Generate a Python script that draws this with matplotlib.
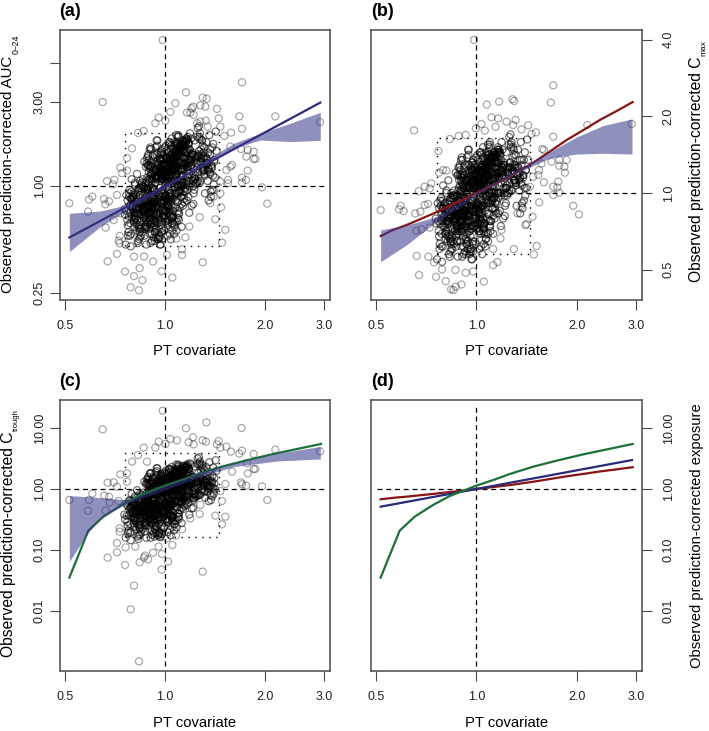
import numpy as np
import matplotlib
matplotlib.use('Agg')
import matplotlib.pyplot as plt

plt.rcParams['font.family'] = ['Liberation Sans', 'DejaVu Sans']

# all values below are log10 of what the axes show

# individually visible points, panel (a)
pt_a = [-.007,.231,-.187,.063,.113,.125,.031,.016,-.019,-.029,.001,.085,.080,.076,.066,.086,.106,.121,.156,.161,.223,.331,.465,.231,.166,.128,.122,.106,.096,-.064,-.081,-.099,-.114,-.134,-.129,-.114,-.174,-.152,-.156,-.144,-.218,-.228,-.287,-.231,-.183,-.168,-.179,.291,.307,.243,.231,.231,.248,.201,.196,.184,.266,.244,.266,.271,.248,.228,.196,.198,.178,.166,.151,.168,.181,.171,.113,.051,.051,.022,-.010,-.076,-.120,-.093,-.068,-.103,-.078,-.172,-.144,-.093,-.063,-.036,.006,-.178,-.154,-.134,-.136,-.139,-.136,.104,.073,.061,.034,.189,.189,.166,.146,.146,.136]
auc_a = [.828,.589,.477,.532,.502,.496,.470,.421,.389,.357,.372,.451,.442,.417,.417,.404,.458,.451,.438,.385,.396,.396,.364,.326,.338,.338,.372,.366,.357,.313,.302,.215,.160,.106,.074,.089,.030,.036,.011,-.049,-.058,-.075,-.096,-.143,-.072,-.085,-.102,-.006,-.098,.036,.049,.021,.089,.121,.111,.092,.196,.168,.155,.155,.206,.211,.225,.304,.285,-.040,-.187,-.119,-.247,-.319,-.430,-.357,-.389,-.517,-.481,-.464,-.483,-.509,-.532,-.572,-.589,-.425,-.383,-.398,-.398,-.426,-.389,-.234,-.191,-.153,-.281,-.308,-.323,-.175,-.228,-.289,-.296,.036,.017,.026,-.021,-.058,-.096]

# panel (b)
pt_b = [-.007,.230,.223,-.187,.068,.108,.113,.031,.045,.065,.09,.117,.11,.155,.332,.465,.230,.178,.165,.135,.057,.015,-.002,.025,-.053,-.032,-.08,-.114,-.10,-.112,-.09,-.155,-.173,-.135,-.14,-.287,-.227,-.232,-.218,-.183,-.168,-.155,-.145,.29,.307,.245,.23,.242,.23,.248,.202,.185,.265,.263,.27,.248,.225,.248,.197,.202,.195,.17,.188,.168,.147,.18,.172,.112,.063,.05,.022,-.01,-.032,-.063,-.045,-.062,-.069,-.076,-.092,-.121,-.172,-.179,-.144,-.127,-.103,-.18,-.165,-.14,.05,.072,.075,.123,.135,.15,.16,.187]
cmax_b = [.601,.423,.355,.246,.359,.368,.361,.347,.297,.293,.280,.287,.267,.266,.267,.271,.221,.238,.232,.250,.260,.271,.254,.245,.224,.228,.212,.165,.09,.08,.088,.025,.007,.038,.018,-.067,-.05,-.064,-.071,-.08,-.073,-.047,-.043,-.05,-.084,.045,.025,.022,-.008,.001,.042,.071,.08,.103,.13,.13,.123,.107,.173,.169,.116,.064,-.037,-.093,-.126,-.208,-.241,-.22,-.271,-.283,-.348,-.308,-.313,-.302,-.359,-.368,-.381,-.378,-.346,-.329,-.322,-.247,-.25,-.272,-.30,-.148,-.143,-.136,-.22,-.178,-.145,-.08,-.05,-.122,.025,.09]

# panel (c)
pt_c = [-.007,.124,.063,.23,-.187,.084,.161,.016,.036,-.019,.001,-.029,-.064,.113,.123,.071,.086,.156,.166,.184,.198,.331,.465,.231,.223,.266,-.081,-.099,-.054,.246,.201,.248,.266,.271,-.114,-.134,-.114,-.172,-.154,-.144,.228,.231,.243,.291,.307,-.218,-.287,-.228,-.231,-.182,-.168,-.166,-.178,-.139,.181,.166,.171,.151,.181,.171,.104,.051,.022,.033,.006,-.019,-.036,-.009,-.063,-.051,-.076,-.06,.009,-.01,.113,-.12,-.172,-.144,-.144,-.118,-.089,-.093,-.103,-.078,-.136,-.136,.131,.146,.106,.076]
ctrough_c = [1.284,1.093,.995,1.0,.978,.847,.787,.82,.798,.776,.738,.678,.678,.798,.776,.765,.732,.732,.678,.694,.612,.645,.617,.628,.579,.574,.557,.448,.448,.421,.284,.257,.328,.328,.257,.240,.12,.104,.109,.038,.109,.077,.055,.044,-.18,-.077,-.18,-.18,-.355,-.109,-.126,-.219,-.355,-.197,.082,-.033,-.197,-.437,-.454,-.579,-.41,-.661,-.918,-.765,-.809,-.945,-1.044,-1.066,-1.126,-1.153,-1.202,-1.093,-1.191,-1.322,-1.355,-1.246,-1.126,-1.038,-.885,-.956,-.945,-1.585,-1.973,-2.825,-.645,-.70,.011,-.044,-.262,-.481]

# estimated points of the crowded middle, same subjects in all three panels
pt_core = [
    -.041,.012,-.063,.028,-.008,.051,-.027,.074,-.052,.006,.033,-.085,
    .019,-.036,.044,-.071,.002,.089,-.018,-.049,.061,-.003,.025,-.092,
    -.058,.037,-.012,.068,-.033,.015,.097,-.076,.008,-.044,.055,-.021,
    .031,-.067,.047,-.005,-.082,.022,.079,-.039,.011,-.054,.103,-.015,
    -.029,.058,-.074,.017,-.047,.035,-.001,.084,-.061,.026,-.011,-.095,
    .042,-.023,.009,-.056,.071,-.038,.004,.113,-.069,.029,-.016,.053,
    -.034,.066,-.079,.014,-.007,.039,-.045,.092,-.024,.001,-.064,.048,
    .023,-.052,.081,-.013,-.088,.034,-.031,.059,.007,-.042,.125,-.072,
    -.019,.046,-.059,.076,-.004,-.037,.018,-.083,.064,-.026,.038,-.009,
    .054,-.068,.003,.099,-.048,.021,-.014,-.077,.043,-.032,.086,-.002,
    -.055,.027,-.022,.069,-.091,.013,-.043,.057,-.006,.036,-.065,.108,
    .005,-.028,.049,-.073,.024,-.011,.082,-.053,.016,-.035,.062,-.086,
    -.046,.032,-.017,.072,-.06,.01,.094,-.025,-.078,.041,-.003,.056,
    .02,-.04,.067,-.01,-.066,.03,-.05,.088,.0,-.02,.045,-.08,
    -.036,.052,-.07,.015,.118,-.03,.04,-.057,.025,-.012,.078,-.047,
    .008,-.062,.035,-.024,.06,-.098,.018,-.006,.091,-.043,.028,-.015,
    -.051,.044,.002,-.033,.075,-.075,.013,-.019,.05,-.039,.106,-.056,
    .033,-.009,-.064,.022,.083,-.028,.006,-.087,.056,-.045,.017,-.001,
    -.03,.063,-.041,.009,-.072,.036,-.016,.097,-.054,.024,.0,-.068,
    .047,-.02,.011,-.05,.07,-.035,.029,-.084,.04,-.008,.065,-.026,
    -.06,.019,-.013,.053,-.044,.085,.003,-.076,.031,-.037,.01,.115,
    -.023,.042,-.066,.026,-.005,.073,-.048,.014,-.09,.058,-.031,.037,
    .016,-.057,.096,-.018,.038,-.071,.007,-.034,.049,-.012,.08,-.042,
    -.01,.055,-.081,.028,-.046,.067,-.002,.02,-.059,.043,-.025,.13,
    # tighter group at the dark centre
    -.021,.014,-.047,.033,.002,-.036,.051,-.012,.025,-.055,.008,.042,
    .018,-.029,.039,-.006,-.052,.027,-.016,.058,-.04,.011,.035,-.024,
    -.033,.005,.047,-.044,.021,-.009,.062,-.03,.013,-.058,.029,-.002,
    .037,-.018,.01,-.049,.054,-.025,.003,.043,-.061,.016,-.035,.024,
    -.014,.031,-.054,.007,.048,-.038,.019,-.004,.065,-.027,.012,-.046,
    .028,-.041,.015,-.01,.056,-.032,.001,.04,-.056,.022,-.019,.05,
    -.008,.045,-.037,.017,-.06,.03,.006,-.023,.053,-.043,.009,.034,
    -.026,.02,.06,-.05,.004,-.015,.038,-.034,.026,-.003,.068,-.045,
    .013,-.02,.044,-.059,.032,-.007,-.039,.052,.0,-.028,.023,.072,
    -.042,.009,-.017,.036,-.063,.046,-.011,.018,-.031,.057,.003,-.048,
    .025,-.005,-.053,.041,.015,-.022,.064,-.037,.007,.03,-.013,.049,
    -.03,.052,-.001,-.045,.019,.078,-.026,.011,-.057,.034,-.008,.06,
    .006,-.034,.027,-.062,.043,-.016,.02,-.041,.055,-.004,.032,-.051,
    -.019,.038,-.028,.01,.07,-.048,.016,-.006,.047,-.033,.022,.002,
    .041,-.012,-.044,.029,-.002,.059,-.036,.013,-.024,.05,-.055,.017,
    -.007,.024,.063,-.031,.005,-.046,.035,-.015,.074,-.053,.028,-.021,
    .012,-.039,.046,-.018,.031,-.064,.004,.056,-.027,.019,-.01,.039,
    -.035,.016,-.005,.051,-.047,.026,-.02,.067,.001,-.043,.033,-.014,
    .021,-.052,.037,-.009,.014,-.029,.049,-.038,.008,.06,-.023,-.001,
    -.016,.03,-.04,.055,.003,-.057,.024,-.012,.042,-.032,.017,.066,
    # group along the fitted trend
    -.085,.072,-.031,.104,-.062,.018,-.098,.045,.121,-.074,.009,.088,
    -.044,.095,-.108,.036,-.019,.066,-.079,.112,-.052,.027,-.003,.083,
    .058,-.091,.013,.076,-.067,.102,-.037,.004,.131,-.083,.049,-.026,
    -.102,.039,.092,-.056,.021,.115,-.071,-.012,.068,-.094,.034,.142,
    .081,-.047,.001,.098,-.087,.053,-.028,.124,-.064,.016,.074,-.105,
    -.033,.063,-.076,.109,-.041,.024,.087,-.099,.047,-.015,.136,-.058,
    .011,-.081,.071,-.024,.118,-.065,.032,-.112,.055,.093,-.039,.006,
    -.069,.101,-.017,.042,-.093,.078,.127,-.049,.015,-.077,.061,-.006,
    .089,-.035,.029,-.104,.065,-.054,.106,.002,-.072,.038,-.021,.148,
    -.059,.017,.094,-.084,.05,-.011,.077,-.096,.031,.119,-.043,.069,
    .003,-.078,.052,.135,-.046,.084,-.022,-.101,.073,-.008,.041,-.063,
    .111,-.029,.019,-.089,.06,-.051,.097,-.014,.035,-.07,.128,.026,
    -.038,.07,-.095,.008,.046,-.06,.086,-.005,-.082,.056,.022,-.042,
    .1,-.068,.037,-.025,.079,-.107,.012,.064,-.048,.116,-.016,.03,
    -.011,.054,-.073,.091,-.034,.028,-.088,.048,.082,-.056,.007,-.02,
    .067,-.045,.139,-.002,-.079,.033,-.03,.107,-.061,.02,.075,-.1,
    # left and right flanks of the cloud
    -.105,-.098,-.112,-.09,-.118,-.102,-.086,-.095,-.108,-.078,-.115,-.093,
    -.088,-.11,-.1,-.082,-.12,-.092,-.106,-.075,-.097,-.113,-.084,-.101,
    -.094,-.116,-.08,-.104,-.09,-.122,-.076,-.099,-.111,-.087,-.103,-.072,
    .118,.134,.105,.142,.126,.11,.15,.13,.098,.138,.122,.145,
    .128,.103,.14,.115,.152,.12,.108,.136,.148,.112,.131,.1,
    .124,.146,.107,.133,.116,.155,.102,.137,.127,.144,.113,.141]
auc_core = [
    .069,-.138,-.013,.228,-.098,.031,-.247,.204,.118,.026,-.077,-.155,
    -.11,.09,.17,-.24,.05,.26,-.29,.08,-.03,-.17,.21,-.19,
    .02,-.09,-.26,.19,-.15,.14,.28,-.05,-.21,.11,.06,-.30,
    .24,-.13,-.06,.07,-.22,-.17,.12,-.31,.19,-.08,.27,.15,
    -.20,.16,-.10,-.04,.12,-.25,.22,.03,-.28,.13,-.12,-.06,
    .18,.06,-.19,-.33,.25,-.07,.16,.10,.02,-.23,-.01,.20,
    -.16,.03,-.24,.25,.09,-.14,-.27,.17,.13,-.06,-.18,.23,
    -.21,-.02,.05,.14,-.12,.29,-.31,-.09,.08,.21,.13,-.28,
    -.05,.24,-.15,.11,-.25,.17,-.08,-.19,.27,-.29,.01,.10,
    -.11,-.26,.23,.08,.15,-.18,.04,-.23,.20,-.13,-.04,.12,
    .13,-.27,.19,.21,-.17,.07,-.32,-.07,.15,.25,-.09,.16,
    -.14,.22,.00,-.20,.09,-.24,.18,.05,-.16,-.10,.26,-.13,
    .10,.20,-.28,.03,-.05,-.11,.15,.26,-.22,-.16,.12,-.03,
    .27,-.21,.11,-.30,.04,-.12,.18,-.02,.06,-.18,.22,-.10,
    -.09,.01,-.03,.16,.09,-.26,.28,-.16,-.07,.19,.17,-.24,
    -.28,.14,-.20,.23,-.01,-.12,.10,-.15,.06,.07,.25,-.33,
    .17,-.12,.08,-.23,.30,.03,-.19,.12,-.10,-.27,.14,-.04,
    .06,.21,-.18,-.25,.19,.09,-.11,-.21,.24,.04,-.30,.13,
    -.26,.11,.14,-.08,-.16,.23,-.29,.02,.16,-.14,.08,.00,
    -.02,-.30,.25,.12,-.06,.18,-.20,-.13,.29,.05,-.08,-.24,
    -.07,.15,-.33,.02,.22,-.10,-.14,-.26,.19,.13,.09,.11,
    .26,-.19,-.12,.18,.07,-.15,.04,-.27,-.18,.10,-.22,.24,
    .03,-.24,.13,-.17,.28,.01,.16,-.29,-.06,.20,-.11,-.14,
    .12,-.05,-.08,-.22,.21,.06,-.25,.15,-.23,-.03,.18,.10,
    -.12,.15,-.18,.21,.04,-.09,.23,-.03,.12,-.20,.07,.19,
    .13,-.17,.22,-.02,-.21,.16,-.06,.25,-.15,.00,.18,-.11,
    -.14,.08,.24,-.19,.10,-.13,.20,-.08,.17,-.22,.14,.03,
    .19,-.05,.01,-.16,.26,-.12,.11,.06,-.24,-.04,-.10,.15,
    .09,.20,-.23,-.07,.18,-.01,.13,-.18,.27,-.12,.05,-.20,
    .17,-.14,-.04,.12,.21,-.19,.02,.24,-.17,.08,-.09,.10,
    -.06,.22,-.11,.16,-.18,.04,.14,-.21,.26,-.13,-.02,.11,
    -.16,.18,.23,-.15,.06,.10,.17,-.20,.03,-.08,.28,-.05,
    .11,-.19,.21,-.23,.13,.05,-.10,.09,-.14,.02,.19,.24,
    -.21,.12,-.04,.07,-.12,.22,.15,-.17,-.09,.25,-.06,-.15,
    .05,.16,-.13,.20,-.16,-.07,.26,-.03,.10,.14,-.20,.06,
    .02,.23,-.08,-.22,.09,.27,-.15,-.12,-.19,.17,.04,.13,
    -.10,-.02,.15,-.17,.19,.08,-.21,.11,.20,-.16,.07,-.04,
    .13,.01,-.20,.03,.24,-.11,.18,-.14,.09,-.05,-.18,.16,
    .22,-.09,-.16,.10,-.13,.19,-.01,.06,.14,-.23,-.12,.21,
    .04,-.17,.25,-.07,.12,-.02,.16,-.19,.21,-.10,.00,.08,
    -.15,.03,.17,-.24,.11,-.08,.20,.13,-.11,.23,-.04,-.18,
    .07,-.13,.18,.22,-.06,.01,-.16,.26,-.20,.12,.05,.15,
    .00,-.11,.14,-.18,.24,.09,.06,-.07,-.22,.19,.10,-.14,
    .16,-.04,-.12,.23,-.20,.11,.02,.18,-.15,.08,-.09,.20,
    -.15,.13,-.02,.02,-.14,-.05,-.06,.14,.17,-.01,.08,.05,
    -.11,.16,-.17,.12,.05,-.02,-.13,.09,-.01,.11,-.09,.18,
    .02,-.16,.11,.14,.00,.20,-.09,-.07,.10,-.15,.13,.04,
    -.10,.09,.01,-.12,.10,.19,-.01,-.10,.15,-.04,.07,.22,
    .17,-.08,.06,.03,-.05,.12,.05,.16,-.14,-.06,.00,-.11,
    -.02,.01,-.12,.18,.06,.09,.10,-.18,-.03,.07,.21,-.09,
    -.08,-.03,.15,-.10,.07,-.11,.12,-.08,.11,.02,.04,.09,
    -.13,.17,.08,-.03,-.07,.15,.13,.02,-.06,-.12,.12,-.04,
    .04,-.10,.10,-.15,.14,.03,.03,-.05,-.09,.00,.06,.15,
    .00,.07,.13,-.07,.02,-.08,.16,-.13,.09,.06,-.11,.01,
    -.05,-.01,.12,.18,-.12,.00,.08,-.03,.07,.06,-.04,-.14,
    .08,.05,-.06,-.13,.13,-.03,.17,.07,-.04,-.09,.09,.10,
    .04,.11,-.05,-.09,.01,-.16,.07,.09,-.12,.16,-.07,-.01,
    .14,-.14,.03,.06,.12,-.06,-.08,.02,-.11,.16,.03,-.05,
    .07,.10,-.09,.04,-.06,.11,-.15,.00,.18,-.02,-.10,.05,
    .13,-.12,.12,.09,-.02,-.04,.06,.14,-.08,.03,.15,-.07,
    -.28,-.12,-.22,.02,-.33,-.07,-.25,-.17,-.04,-.30,-.14,-.20,
    -.09,-.26,.04,-.31,-.16,-.23,-.02,-.29,-.11,-.19,.07,-.27,
    -.15,-.05,-.32,-.21,.01,-.13,-.24,-.08,-.28,-.18,-.34,-.10,
    .22,.08,.30,-.02,.15,.26,.05,.19,.33,-.06,.12,.24,
    .03,.28,.10,.17,.31,-.04,.21,.07,.14,.26,-.08,.18,
    .25,.01,.16,.29,.09,.20,.34,-.03,.13,.06,.23,.11]
cmax_core = [
    .027,-.123,-.015,.115,-.074,-.022,-.185,.111,.051,.013,-.082,-.097,
    -.10,.05,.10,-.19,.02,.16,-.22,.03,-.04,-.13,.13,-.16,
    -.01,-.08,-.20,.12,-.12,.08,.19,-.06,-.16,.06,.03,-.23,
    .15,-.11,-.06,.03,-.17,-.14,.07,-.24,.11,-.08,.18,.09,
    -.16,.10,-.09,-.05,.07,-.19,.14,.00,-.21,.08,-.10,-.07,
    .11,.02,-.15,-.25,.16,-.07,.09,.05,-.01,-.18,-.03,.12,
    -.13,.00,-.19,.16,.05,-.11,-.21,.10,.08,-.06,-.14,.14,
    -.16,-.04,.02,.08,-.11,.19,-.24,-.08,.04,.13,.07,-.22,
    -.06,.15,-.13,.06,-.19,.10,-.08,-.16,.18,-.22,.00,.05,
    -.10,-.20,.15,.04,.09,-.14,.01,-.18,.12,-.11,-.05,.07,
    .07,-.21,.11,.13,-.15,.03,-.25,-.07,.09,.16,-.09,.09,
    -.12,.14,-.02,-.17,.05,-.19,.11,.02,-.13,-.09,.17,-.12,
    .05,.12,-.22,.00,-.06,-.10,.08,.17,-.18,-.13,.07,-.04,
    .18,-.17,.06,-.23,.01,-.10,.11,-.04,.03,-.15,.14,-.10,
    -.09,-.02,-.05,.10,.04,-.20,.19,-.14,-.07,.12,.10,-.19,
    -.22,.08,-.16,.15,-.03,-.11,.06,-.13,.03,.04,.16,-.26,
    .10,-.11,.04,-.18,.20,.00,-.16,.07,-.09,-.21,.08,-.06,
    .03,.13,-.15,-.20,.12,.05,-.10,-.17,.15,.01,-.24,.08,
    -.20,.06,.08,-.08,-.14,.15,-.23,.00,.10,-.12,.04,-.02,
    -.03,-.24,.16,.07,-.07,.11,-.16,-.12,.20,.02,-.08,-.19,
    -.08,.09,-.26,.00,.14,-.09,-.12,-.20,.12,.07,.05,.05,
    .17,-.15,-.11,.11,.03,-.13,.01,-.21,-.15,.06,-.18,.15,
    .00,-.19,.07,-.14,.18,-.01,.09,-.23,-.06,.12,-.10,-.12,
    .07,-.06,-.09,-.18,.13,.03,-.20,.09,-.19,-.04,.11,.06,
    -.09,.09,-.13,.13,.02,-.07,.14,-.03,.07,-.14,.04,.12,
    .08,-.12,.14,-.02,-.15,.10,-.05,.15,-.11,-.01,.11,-.08,
    -.10,.04,.15,-.13,.06,-.09,.12,-.06,.10,-.15,.08,.01,
    .12,-.04,.00,-.11,.16,-.09,.06,.03,-.17,-.03,-.07,.09,
    .05,.12,-.16,-.05,.11,-.02,.08,-.12,.17,-.09,.02,-.14,
    .10,-.10,-.03,.07,.13,-.13,.00,.15,-.12,.04,-.07,.06,
    -.05,.14,-.08,.10,-.13,.02,.08,-.15,.16,-.09,-.02,.07,
    -.11,.11,.14,-.11,.03,.06,.10,-.14,.01,-.06,.17,-.04,
    .07,-.13,.13,-.16,.08,.02,-.07,.05,-.10,.00,.12,.15,
    -.15,.07,-.03,.04,-.09,.14,.09,-.12,-.07,.15,-.05,-.11,
    .02,.10,-.09,.12,-.11,-.05,.16,-.03,.06,.09,-.14,.03,
    .00,.14,-.06,-.15,.05,.17,-.11,-.09,-.13,.10,.02,.08,
    -.07,-.02,.09,-.12,.12,.04,-.15,.06,.12,-.11,.04,-.03,
    .08,.00,-.14,.01,.15,-.08,.11,-.10,.05,-.04,-.13,.10,
    .14,-.07,-.11,.06,-.09,.12,-.02,.03,.09,-.16,-.09,.13,
    .02,-.12,.16,-.05,.07,-.02,.10,-.13,.13,-.07,-.01,.05,
    -.11,.01,.11,-.17,.07,-.06,.13,.08,-.08,.14,-.03,-.13,
    .04,-.09,.11,.14,-.05,.00,-.11,.16,-.14,.07,.03,.09,
    -.01,-.08,.09,-.13,.15,.05,.03,-.05,-.15,.12,.06,-.10,
    .10,-.03,-.09,.14,-.14,.07,.01,.11,-.11,.05,-.06,.12,
    -.11,.08,-.02,.01,-.10,-.04,-.05,.08,.10,-.02,.04,.02,
    -.08,.09,-.12,.07,.02,-.02,-.10,.05,-.02,.06,-.07,.11,
    .00,-.11,.06,.08,-.01,.12,-.07,-.05,.06,-.11,.07,.01,
    -.08,.05,-.01,-.09,.05,.11,-.02,-.07,.09,-.04,.03,.13,
    .10,-.06,.03,.01,-.04,.07,.02,.10,-.10,-.05,-.01,-.08,
    -.03,.00,-.09,.11,.03,.05,.06,-.13,-.03,.04,.13,-.07,
    -.06,-.03,.09,-.07,.04,-.08,.07,-.06,.06,.00,.02,.05,
    -.10,.10,.04,-.03,-.06,.09,.08,.00,-.05,-.09,.07,-.04,
    .02,-.08,.06,-.11,.08,.01,.01,-.04,-.07,-.01,.03,.09,
    -.01,.04,.08,-.06,.00,-.06,.10,-.09,.05,.03,-.08,.00,
    -.04,-.02,.07,.11,-.09,-.01,.04,-.03,.04,.03,-.04,-.10,
    .04,.02,-.05,-.09,.08,-.03,.10,.04,-.03,-.07,.05,.06,
    .02,.06,-.04,-.07,.00,-.11,.04,.05,-.09,.10,-.05,-.01,
    .08,-.10,.01,.03,.07,-.05,-.06,.00,-.08,.10,.01,-.04,
    .04,.06,-.07,.02,-.05,.06,-.11,-.01,.11,-.03,-.08,.02,
    .08,-.09,.07,.05,-.03,-.04,.03,.08,-.06,.01,.09,-.06,
    -.21,-.10,-.17,.01,-.26,-.06,-.19,-.13,-.03,-.23,-.11,-.16,
    -.07,-.20,.03,-.24,-.12,-.18,-.02,-.22,-.09,-.15,.05,-.21,
    -.12,-.04,-.25,-.16,.00,-.10,-.19,-.06,-.22,-.14,-.27,-.08,
    .15,.04,.20,-.03,.10,.18,.02,.13,.22,-.06,.07,.16,
    .01,.19,.06,.11,.21,-.05,.14,.03,.09,.17,-.08,.12,
    .17,-.01,.10,.20,.05,.13,.23,-.04,.08,.02,.15,.07]
ctrough_core = [
    -.02,-.41,-.18,.29,-.34,-.09,-.62,.25,.07,-.10,-.29,-.45,
    -.35,.02,.16,-.63,-.08,.37,-.72,-.02,-.20,-.45,.24,-.52,
    -.12,-.30,-.65,.22,-.42,.12,.41,-.22,-.53,.06,-.03,-.76,
    .30,-.39,-.24,-.02,-.58,-.46,.14,-.75,.20,-.27,.38,.12,
    -.52,.18,-.32,-.20,.09,-.63,.27,-.08,-.70,.10,-.36,-.24,
    .22,-.05,-.50,-.80,.33,-.26,.16,.06,-.11,-.58,-.15,.24,
    -.44,-.10,-.60,.32,.02,-.40,-.67,.18,.12,-.22,-.48,.30,
    -.54,-.16,-.03,.13,-.36,.40,-.78,-.28,.00,.26,.10,-.70,
    -.20,.31,-.42,.08,-.63,.19,-.27,-.50,.36,-.72,-.09,.05,
    -.33,-.66,.30,.03,.15,-.48,-.06,-.60,.24,-.37,-.18,.10,
    .10,-.68,.22,.26,-.47,-.02,-.80,-.25,.15,.33,-.30,.17,
    -.40,.27,-.12,-.53,.02,-.61,.20,-.05,-.44,-.31,.35,-.38,
    .04,.24,-.70,-.08,-.20,-.34,.13,.34,-.58,-.45,.09,-.16,
    .36,-.56,.07,-.74,-.06,-.35,.20,-.15,-.02,-.47,.27,-.31,
    -.30,-.10,-.17,.16,.05,-.65,.38,-.44,-.24,.21,.18,-.60,
    -.71,.12,-.52,.29,-.13,-.36,.06,-.41,-.02,.00,.32,-.79,
    .17,-.35,.01,-.59,.42,-.08,-.50,.09,-.31,-.68,.12,-.19,
    -.03,.25,-.47,-.62,.20,.04,-.33,-.54,.30,-.07,-.76,.11,
    -.66,.08,.13,-.27,-.43,.28,-.73,-.11,.16,-.39,.03,-.13,
    -.14,-.75,.33,.10,-.22,.18,-.52,-.37,.40,-.03,-.26,-.61,
    -.25,.15,-.78,-.09,.26,-.31,-.40,-.65,.21,.10,.04,.12,
    .34,-.49,-.36,.19,.01,-.42,-.04,-.67,-.48,.07,-.56,.30,
    -.07,-.60,.11,-.46,.36,-.10,.17,-.72,-.21,.24,-.32,-.39,
    .09,-.18,-.28,-.57,.25,.00,-.63,.14,-.59,-.14,.20,.07,
    -.35,.17,-.46,.28,-.04,-.29,.32,-.18,.11,-.50,.01,.24,
    .13,-.44,.30,-.16,-.52,.18,-.23,.36,-.40,-.12,.22,-.33,
    -.38,.03,.33,-.48,.07,-.36,.26,-.27,.20,-.53,.14,-.06,
    .24,-.21,-.10,-.42,.38,-.35,.09,-.01,-.56,-.20,-.31,.16,
    .05,.26,-.55,-.25,.22,-.14,.12,-.46,.39,-.34,-.02,-.50,
    .20,-.38,-.19,.10,.28,-.48,-.08,.33,-.44,.03,-.29,.08,
    -.23,.30,-.33,.18,-.46,-.04,.15,-.52,.37,-.36,-.16,.09,
    -.42,.22,.32,-.40,-.01,.07,.20,-.50,-.06,-.27,.41,-.22,
    .09,-.47,.28,-.55,.13,-.02,-.31,.05,-.38,-.09,.24,.33,
    -.52,.11,-.20,.02,-.35,.30,.16,-.44,-.29,.35,-.24,-.40,
    -.03,.18,-.37,.27,-.42,-.25,.38,-.18,.08,.14,-.50,.00,
    -.07,.31,-.27,-.54,.05,.40,-.40,-.34,-.48,.20,-.04,.13,
    -.31,-.15,.16,-.44,.24,.03,-.52,.09,.26,-.42,.02,-.19,
    .13,-.10,-.50,-.05,.33,-.33,.21,-.38,.05,-.21,-.46,.18,
    .30,-.29,-.42,.08,-.36,.24,-.13,-.01,.14,-.56,-.34,.28,
    -.04,-.44,.35,-.25,.11,-.15,.18,-.48,.28,-.31,-.11,.04,
    -.40,-.06,.20,-.58,.09,-.27,.26,.12,-.33,.31,-.19,-.46,
    .01,-.36,.21,.30,-.23,-.09,-.42,.37,-.50,.11,-.03,.16,
    -.12,-.33,.14,-.46,.33,.05,-.01,-.25,-.54,.24,.07,-.38,
    .18,-.19,-.34,.31,-.50,.08,-.08,.22,-.40,.03,-.29,.27,
    -.40,.06,-.18,-.10,-.38,-.22,-.25,.07,.13,-.17,-.02,-.07,
    -.33,.11,-.43,.05,-.08,-.18,-.36,.00,-.16,.03,-.29,.14,
    -.12,-.41,.03,.08,-.15,.17,-.29,-.26,.02,-.40,.06,-.09,
    -.31,.00,-.13,-.34,.02,.15,-.17,-.31,.09,-.21,-.03,.21,
    .12,-.27,-.06,-.10,-.23,.05,-.07,.10,-.37,-.24,-.15,-.32,
    -.18,-.13,-.34,.14,-.05,.00,.02,-.45,-.20,-.04,.19,-.29,
    -.28,-.20,.09,-.31,-.03,-.32,.05,-.28,.03,-.12,-.08,.00,
    -.36,.13,-.02,-.20,-.26,.09,.06,-.12,-.24,-.34,.05,-.21,
    -.09,-.31,.02,-.39,.08,-.10,-.09,-.23,-.29,-.15,-.05,.09,
    -.15,-.04,.06,-.26,-.12,-.28,.10,-.36,.00,-.05,-.32,-.13,
    -.23,-.17,.05,.14,-.34,-.15,-.01,-.20,-.03,-.05,-.21,-.37,
    -.02,-.07,-.25,-.36,.06,-.20,.12,-.04,-.21,-.29,.00,.02,
    -.09,.03,-.23,-.29,-.13,-.41,-.03,.00,-.34,.11,-.26,-.16,
    .08,-.38,-.10,-.05,.05,-.25,-.28,-.12,-.33,.11,-.10,-.23,
    -.04,.02,-.29,-.09,-.25,.03,-.39,-.15,.14,-.18,-.31,-.07,
    .06,-.34,.05,.00,-.18,-.21,-.05,.08,-.28,-.10,.10,-.26,
    -.72,-.40,-.60,-.15,-.80,-.30,-.66,-.48,-.20,-.76,-.44,-.56,
    -.33,-.68,-.08,-.78,-.50,-.62,-.18,-.74,-.38,-.54,-.02,-.70,
    -.46,-.24,-.82,-.58,-.12,-.42,-.64,-.28,-.72,-.52,-.84,-.36,
    .32,.05,.45,-.12,.22,.38,.00,.28,.50,-.18,.15,.35,
    -.04,.42,.10,.25,.47,-.14,.30,.03,.18,.40,-.20,.26,
    .36,-.08,.20,.44,.08,.30,.52,-.10,.16,.02,.34,.12]

# fitted lines
line_x_auc = [-.287, 0, .466]
line_auc = [-.29, 0, .474]
line_x_cmax = [-.287,-.25,-.21,-.13,-.06,0,.1,.17,.22,.27,.32,.37,.42,.468]
line_cmax = [-.169,-.145,-.126,-.081,-.038,0,.064,.119,.163,.208,.247,.287,.322,.357]
line_x_ctrough = [-.287,-.23,-.185,-.13,-.08,-.04,0,.05,.10,.17,.24,.32,.40,.468]
line_ctrough = [-1.453,-.683,-.454,-.262,-.115,-.03,.055,.147,.246,.366,.464,.568,.66,.738]

# shaded bands
band_x_a = [-.287,-.194,-.094,0,.106,.206,.286,.376,.466]
band_lo_a = [-.370,-.228,-.115,-.011,.11,.215,.262,.253,.26]
band_hi_a = [-.153,-.14,-.096,.0,.13,.243,.30,.357,.419]
band_x_b = [-.287,-.21,-.12,0,.12,.22,.30,.38,.466]
band_lo_b = [-.27,-.204,-.113,-.008,.077,.137,.153,.156,.153]
band_hi_b = [-.145,-.126,-.093,.005,.09,.162,.22,.265,.291]
band_x_c = [-.287,-.232,-.194,-.114,0,.106,.206,.336,.466]
band_lo_c = [-1.19,-.727,-.481,-.235,-.016,.202,.366,.459,.492]
band_hi_c = [-.109,-.125,-.142,-.18,.055,.284,.42,.585,.697]

# dotted box around the middle of the data: x range, then y range per panel
box_x = [.76, 1.45]
box_y_a = [.46, 2.01]
box_y_b = [.574, 1.65]
box_y_c = [.165, 3.94]

x_ticks = [.5, 1, 2, 3]
x_labels = ['0.5', '1.0', '2.0', '3.0']

BLUE = '#2a2a78'
RED = '#8a1414'
GREEN = '#1c7038'
BAND = '#36368a'
GREY = '#4a4a4a'
W, H = 709, 731


def setup(rect, ylim, yticks, ylabels, right=False):
    l, t, r, b = rect
    ax = fig.add_axes([l / W, 1 - b / H, (r - l) / W, (b - t) / H])
    ax.set_xscale('log')
    ax.set_yscale('log')
    ax.set_xlim(10 ** -.315, 10 ** .495)
    ax.set_ylim(*ylim)
    ax.set_xticks(x_ticks, x_labels)
    ax.set_yticks(yticks, ylabels, rotation=90, va='center')
    ax.minorticks_off()
    ax.tick_params(length=7.2, width=.8, color=GREY, labelcolor='#222222', labelsize=9)
    ax.tick_params(axis='x', pad=7)
    ax.tick_params(axis='y', pad=8 if right else 3)
    if right:
        ax.yaxis.tick_right()
    for s in ax.spines.values():
        s.set_color(GREY)
        s.set_linewidth(1.1)
    ax.axvline(1, ymin=.02, ymax=.98, color='black', lw=.9, dashes=(4, 3), zorder=1.5)
    ax.axhline(1, xmin=.02, xmax=.98, color='black', lw=.9, dashes=(4, 3), zorder=1.5)
    return ax


def draw_points(ax, xs, ys, alpha):
    ax.scatter(10 ** np.array(xs), 10 ** np.array(ys), s=26, facecolors='none',
               edgecolors='black', linewidths=.9, alpha=alpha, zorder=2)


def draw_box(ax, box_y):
    ax.plot([box_x[0], box_x[0], box_x[1], box_x[1], box_x[0]],
            [box_y[0], box_y[1], box_y[1], box_y[0], box_y[0]],
            color='black', lw=1, dashes=(1, 4), zorder=1.6)


def draw_band(ax, xs, lo, hi):
    ax.fill_between(10 ** np.array(xs), 10 ** np.array(lo), 10 ** np.array(hi),
                    color=BAND, alpha=.55, lw=0, zorder=5)


def draw_line(ax, xs, ys, color):
    ax.plot(10 ** np.array(xs), 10 ** np.array(ys), color=color, lw=1.6, zorder=4)


fig = plt.figure(figsize=(W / 100, H / 100), dpi=100)

ylim_a = (10 ** -.644, 10 ** .885)
ylim_b = (10 ** -.42, 10 ** .64)
ylim_c = (10 ** -2.984, 10 ** 1.454)
ticks_c = [.01, .1, 1, 10]
labels_c = ['0.01', '0.10', '1.00', '10.00']

ax_a = setup((60, 30, 330, 300), ylim_a, [.25, 1, 3, 5], ['0.25', '1.00', '3.00', ''])
ax_b = setup((371.3, 30, 641.7, 300), ylim_b, [.5, 1, 2, 4], ['0.5', '1.0', '2.0', '4.0'], right=True)
ax_c = setup((60, 400.3, 330, 671), ylim_c, ticks_c, labels_c)
ax_d = setup((371.3, 400.3, 641.7, 671), ylim_c, ticks_c, labels_c, right=True)

draw_points(ax_a, pt_core, auc_core, .55)
draw_points(ax_a, pt_a, auc_a, .34)
draw_box(ax_a, box_y_a)
draw_line(ax_a, line_x_auc, line_auc, BLUE)
draw_band(ax_a, band_x_a, band_lo_a, band_hi_a)

draw_points(ax_b, pt_core, cmax_core, .55)
draw_points(ax_b, pt_b, cmax_b, .34)
draw_box(ax_b, box_y_b)
draw_line(ax_b, line_x_cmax, line_cmax, RED)
draw_band(ax_b, band_x_b, band_lo_b, band_hi_b)

draw_points(ax_c, pt_core, ctrough_core, .55)
draw_points(ax_c, pt_c, ctrough_c, .34)
draw_box(ax_c, box_y_c)
draw_line(ax_c, line_x_ctrough, line_ctrough, GREEN)
draw_band(ax_c, band_x_c, band_lo_c, band_hi_c)

draw_line(ax_d, line_x_cmax, line_cmax, RED)
draw_line(ax_d, line_x_auc, line_auc, BLUE)
draw_line(ax_d, line_x_ctrough, line_ctrough, GREEN)

# text placed by pixel position in the figure
for label, px, py in [('(a)', 59, 12), ('(b)', 371, 12), ('(c)', 59, 381), ('(d)', 371, 381)]:
    fig.text(px / W, 1 - py / H, label, fontsize=13, fontweight='bold', ha='left', va='center')
for px, py in [(195, 351), (507, 351), (195, 723), (507, 723)]:
    fig.text(px / W, 1 - py / H, 'PT covariate', fontsize=10.6, ha='center', va='center')

# y titles: main text from its lower end, subscript as its own smaller text
y_titles = [(8.5, 293.3, 'Observed prediction-corrected AUC', 10.85, 16, 54, '0\u201324', 6.3),
            (697, 281.7, 'Observed prediction-corrected C', 11.25, 704, 56, 'max', 6),
            (8.5, 656.7, 'Observed prediction-corrected C', 11.25, 16, 431, 'trough', 5.5),
            (697, 668.3, 'Observed prediction-corrected exposure', 10.65, 0, 0, '', 6)]
for px, py, label, main_size, sx, sy, sub, size in y_titles:
    fig.text(px / W, 1 - py / H, label, fontsize=main_size, rotation=90, ha='center', va='bottom')
    if sub:
        fig.text(sx / W, 1 - sy / H, sub, fontsize=size, rotation=90, ha='center', va='bottom')

fig.savefig('out.png', dpi=100)
